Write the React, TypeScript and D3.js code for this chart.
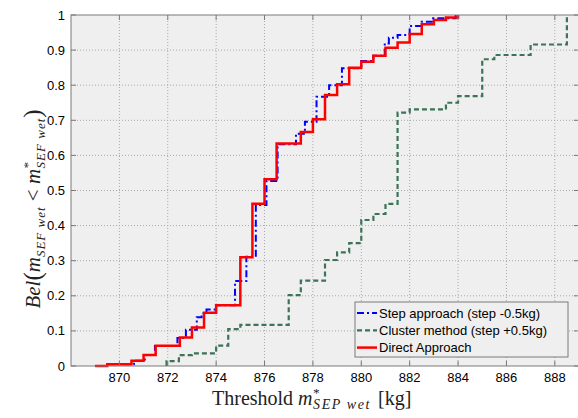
import React from "react";
import * as d3 from "d3";

const redX = [869.0, 869.5, 870.5, 871.0, 871.5, 872.5, 873.0, 873.5, 874.0, 875.0, 875.5, 876.0, 876.5, 877.5, 878.0, 878.5, 879.0, 879.5, 880.0, 880.5, 881.0, 881.5, 882.0, 882.5, 883.0, 883.5, 884.0];
const redP = [0, 0.005, 0.015, 0.031, 0.058, 0.081, 0.11, 0.152, 0.173, 0.31, 0.462, 0.532, 0.634, 0.667, 0.703, 0.772, 0.803, 0.85, 0.867, 0.884, 0.907, 0.922, 0.946, 0.974, 0.986, 0.993, 1.0];

const blueX = [869.0, 869.5, 870.6, 871.05, 871.47, 872.4, 872.75, 873.2, 873.4, 873.6, 874.0, 874.78, 875.25, 875.64, 876.08, 876.54, 877.3, 877.67, 878.15, 878.67, 879.2, 880.0, 880.5, 880.97, 881.14, 881.5, 882.0, 882.5, 882.97, 883.9];
const blueP = [0, 0.005, 0.015, 0.031, 0.057, 0.08, 0.103, 0.139, 0.15, 0.161, 0.173, 0.242, 0.311, 0.459, 0.527, 0.632, 0.662, 0.696, 0.767, 0.8, 0.848, 0.869, 0.884, 0.919, 0.935, 0.943, 0.969, 0.981, 0.991, 1.0];

const greenX = [871.95, 871.95, 872.46, 873.0, 874.0, 874.5, 875.0, 877.0, 877.5, 878.5, 879.0, 879.5, 880.0, 880.5, 881.0, 881.5, 882.0, 883.5, 884.0, 885.0, 885.5, 887.0, 888.5, 888.5];
const greenP = [0, 0.014, 0.031, 0.036, 0.058, 0.105, 0.117, 0.202, 0.243, 0.302, 0.324, 0.35, 0.416, 0.433, 0.462, 0.722, 0.731, 0.75, 0.769, 0.874, 0.886, 0.916, 0.916, 1.0];

const xTicks = [870, 872, 874, 876, 878, 880, 882, 884, 886, 888];
const yTicks = [0, 0.1, 0.2, 0.3, 0.4, 0.5, 0.6, 0.7, 0.8, 0.9, 1];
const yTickLabels = ["0", "0.1", "0.2", "0.3", "0.4", "0.5", "0.6", "0.7", "0.8", "0.9", "1"];

const seriesNames = ["Step approach (step -0.5kg)", "Cluster method (step +0.5kg)", "Direct Approach"];

const L = 71, T = 15, R = 579, B = 366;

export default function App() {
  const x = d3.scaleLinear().domain([868, 889]).range([L, R]);
  const y = d3.scaleLinear().domain([0, 1]).range([B, T]);
  const mk = (xs: number[], ps: number[]) =>
    d3.line<number>().x((_, i) => x(xs[i])).y((_, i) => y(ps[i])).curve(d3.curveStepAfter)(xs);

  const sans = "'Liberation Sans', Arial, sans-serif";
  const serifL = "'Liberation Serif', serif";
  const boxCol = "#7a7a7a";

  const legend = [
    { name: seriesNames[0], color: "#0000ff", dash: "7,3,2,3", w: 2 },
    { name: seriesNames[1], color: "#3d7358", dash: "5,3", w: 2.2 },
    { name: seriesNames[2], color: "#ff0000", dash: "", w: 2.5 },
  ];

  return (
    <svg width={578} height={418} style={{ position: "absolute", left: 0, top: 0, background: "#fff" }}>
      <rect x={L} y={T} width={R - L} height={B - T} fill="#efefef" />
      {xTicks.map((t) => (
        <line key={"gx" + t} x1={x(t)} x2={x(t)} y1={T} y2={B} stroke="#a8a8a8" strokeWidth={1} strokeDasharray="1,2" />
      ))}
      {yTicks.slice(1, -1).map((t) => (
        <line key={"gy" + t} x1={L} x2={R} y1={y(t)} y2={y(t)} stroke="#a8a8a8" strokeWidth={1} strokeDasharray="1,2" />
      ))}
      <path d={mk(greenX, greenP) || ""} fill="none" stroke="#3d7358" strokeWidth={2.2} strokeDasharray="5,3" />
      <path d={mk(blueX, blueP) || ""} fill="none" stroke="#0000ff" strokeWidth={2} strokeDasharray="7,3,2,3" />
      <path d={mk(redX, redP) || ""} fill="none" stroke="#ff0000" strokeWidth={2.5} />
      <rect x={L} y={T} width={R - L} height={B - T} fill="none" stroke={boxCol} strokeWidth={1} />
      {xTicks.map((t) => (
        <g key={"tx" + t}>
          <line x1={x(t)} x2={x(t)} y1={B} y2={B - 5} stroke={boxCol} />
          <line x1={x(t)} x2={x(t)} y1={T} y2={T + 5} stroke={boxCol} />
          <text x={x(t)} y={382} textAnchor="middle" fontFamily={sans} fontSize={13} fill="#000">{t}</text>
        </g>
      ))}
      {yTicks.map((t, i) => (
        <g key={"ty" + t}>
          <line x1={L} x2={L + 5} y1={y(t)} y2={y(t)} stroke={boxCol} />
          <line x1={R - 5} x2={R} y1={y(t)} y2={y(t)} stroke={boxCol} />
          <text x={65} y={y(t) + 4.5} textAnchor="end" fontFamily={sans} fontSize={13} fill="#000">{yTickLabels[i]}</text>
        </g>
      ))}
      {/* legend */}
      <rect x={355} y={302} width={213} height={55} fill="#efefef" stroke={boxCol} strokeWidth={1} />
      {legend.map((e, i) => (
        <g key={e.name}>
          <line x1={357} x2={377} y1={313 + i * 17.3} y2={313 + i * 17.3} stroke={e.color} strokeWidth={e.w} strokeDasharray={e.dash} />
          <text x={379} y={317.5 + i * 17.3} fontFamily={sans} fontSize={13} fill="#000">{e.name}</text>
        </g>
      ))}
      {/* x label */}
      <text x={212} y={405} fontFamily={serifL} fontSize={20} fill="#222">
        <tspan>Threshold </tspan>
        <tspan fontStyle="italic">m</tspan>
        <tspan fontSize={13} dy={-8} fontStyle="italic">*</tspan>
        <tspan fontSize={14} dx={-6} dy={12} fontStyle="italic" letterSpacing={1.6}>SEP wet</tspan>
        <tspan dy={-4} dx={2}> [kg]</tspan>
      </text>
      {/* y label */}
      <text transform="translate(40,209) rotate(-90)" textAnchor="middle" fontFamily={serifL} fontSize={21} fill="#222">
        <tspan fontStyle="italic">Bel</tspan>
        <tspan fontSize={25} dy={1}>(</tspan>
        <tspan fontStyle="italic" dy={-1}>m</tspan>
        <tspan fontSize={13} fontStyle="italic" dy={5} letterSpacing={1}>SEF wet</tspan>
        <tspan dy={-5}> &lt; </tspan>
        <tspan fontStyle="italic">m</tspan>
        <tspan fontSize={13} dy={-8} fontStyle="italic">*</tspan>
        <tspan fontSize={13} dx={-6} dy={13} fontStyle="italic" letterSpacing={1}>SEF wet</tspan>
        <tspan fontSize={25} dy={-4}>)</tspan>
      </text>
    </svg>
  );
}
